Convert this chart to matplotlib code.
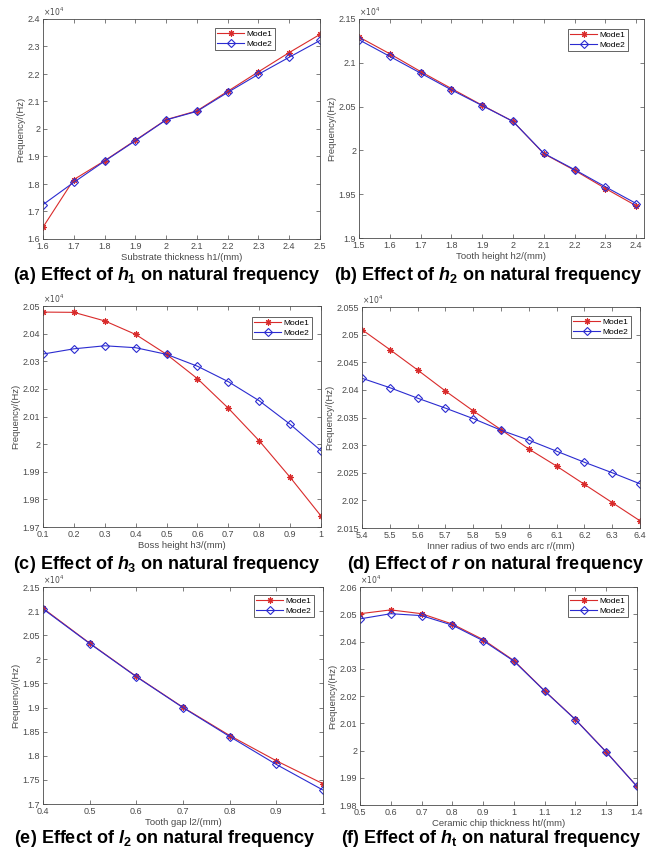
import matplotlib
matplotlib.use("Agg")
import matplotlib.pyplot as plt
from matplotlib.ticker import FuncFormatter

plt.rcParams['font.family'] = ['Liberation Sans', 'DejaVu Sans']
plt.rcParams['mathtext.fontset'] = 'custom'
plt.rcParams['mathtext.rm'] = 'Liberation Sans:bold'
plt.rcParams['mathtext.bf'] = 'Liberation Sans:bold'
plt.rcParams['mathtext.it'] = 'Liberation Sans:italic:bold'
plt.rcParams['mathtext.bfit'] = 'Liberation Sans:italic:bold'

# natural frequency data (Hz)
h1 = [1.6, 1.7, 1.8, 1.9, 2.0, 2.1, 2.2, 2.3, 2.4, 2.5]
h1_mode1 = [16430, 18160, 18845, 19590, 20340, 20660, 21370, 22080, 22780, 23440]
h1_mode2 = [17250, 18060, 18830, 19570, 20330, 20640, 21330, 21990, 22610, 23220]

h2 = [1.5, 1.6, 1.7, 1.8, 1.9, 2.0, 2.1, 2.2, 2.3, 2.4]
h2_mode1 = [21294, 21103, 20900, 20706, 20515, 20331, 19962, 19772, 19565, 19367]
h2_mode2 = [21263, 21073, 20882, 20691, 20511, 20330, 19966, 19780, 19584, 19393]

h3 = [0.1, 0.2, 0.3, 0.4, 0.5, 0.6, 0.7, 0.8, 0.9, 1.0]
h3_mode1 = [20478, 20477, 20446, 20397, 20325, 20237, 20130, 20012, 19880, 19740]
h3_mode2 = [20326, 20345, 20356, 20349, 20325, 20282, 20226, 20157, 20072, 19976]

r = [5.4, 5.5, 5.6, 5.7, 5.8, 5.9, 6.0, 6.1, 6.2, 6.3, 6.4]
r_mode1 = [20509, 20473, 20436, 20398, 20362, 20328, 20293, 20262, 20229, 20196, 20163]
r_mode2 = [20421, 20404, 20385, 20367, 20348, 20327, 20309, 20289, 20269, 20250, 20230]

l2 = [0.4, 0.5, 0.6, 0.7, 0.8, 0.9, 1.0]
l2_mode1 = [21059, 20335, 19646, 19005, 18420, 17896, 17420]
l2_mode2 = [21045, 20328, 19639, 18998, 18399, 17820, 17289]

ht = [0.5, 0.6, 0.7, 0.8, 0.9, 1.0, 1.1, 1.2, 1.3, 1.4]
ht_mode1 = [20502, 20516, 20502, 20464, 20407, 20330, 20219, 20114, 19995, 19868]
ht_mode2 = [20483, 20502, 20495, 20460, 20403, 20328, 20218, 20113, 19994, 19868]

panels = [
    # x, mode1, mode2, xlabel, xmax, ylim, ystep, caption
    (h1, h1_mode1, h1_mode2, 'Substrate thickness h1/(mm)', 2.5, (16000, 24000), 1000,
     r'(a) Effect of $\mathit{h}_{\mathbf{1}}$ on natural frequency'),
    (h2, h2_mode1, h2_mode2, 'Tooth height h2/(mm)', 2.425, (19000, 21500), 500,
     r'(b) Effect of $\mathit{h}_{\mathbf{2}}$ on natural frequency'),
    (h3, h3_mode1, h3_mode2, 'Boss height h3/(mm)', 1.0, (19700, 20500), 100,
     r'(c) Effect of $\mathit{h}_{\mathbf{3}}$ on natural frequency'),
    (r, r_mode1, r_mode2, 'Inner radius of two ends arc r/(mm)', 6.4, (20150, 20550), 50,
     r'(d) Effect of $\mathit{r}$ on natural frequency'),
    (l2, l2_mode1, l2_mode2, 'Tooth gap l2/(mm)', 1.0, (17000, 21500), 500,
     r'(e) Effect of $\mathit{l}_{\mathbf{2}}$ on natural frequency'),
    (ht, ht_mode1, ht_mode2, 'Ceramic chip thickness ht/(mm)', 1.4, (19800, 20600), 100,
     r'(f) Effect of $\mathit{h}_{\mathbf{t}}$ on natural frequency'),
]

# axes boxes in pixels: left, right, top, bottom
boxes = [(43, 320, 19, 239), (359, 644, 19, 238),
         (43, 321, 306, 527), (362, 640, 307, 528),
         (43, 323, 587, 804), (360, 637, 587, 805)]
# legend top-right corners in pixels
legend_tr = [(275, 28), (628, 29), (312, 317), (631, 316), (314, 595), (628, 595)]
# caption centres in pixels
caption_c = [(167, 276), (488, 276), (167, 564), (495, 564), (165, 838), (491, 838)]

W, H = 659, 855
fig = plt.figure(figsize=(W / 100, H / 100), dpi=100)

red = '#d92b2b'
blue = '#2b2bd0'
gray = '#4a4a4a'

for i, (x, m1, m2, xlab, xmax, ylim, ystep, cap) in enumerate(panels):
    l, rr, t, b = boxes[i]
    ax = fig.add_axes([l / W, 1 - b / H, (rr - l) / W, (b - t) / H])
    ax.plot(x, m1, '-', color=red, lw=0.8, marker=(8, 2, 0), ms=4.5, mew=0.8,
            label='Mode1')
    ax.plot(x, m2, '-', color=blue, lw=0.8, marker='D', ms=3.8, mew=0.8,
            mfc='none', label='Mode2')
    ax.set_xlim(x[0], xmax)
    ax.set_ylim(*ylim)
    ax.set_xticks(x)
    n = int(round((ylim[1] - ylim[0]) / ystep))
    ax.set_yticks([ylim[0] + k * ystep for k in range(n + 1)])
    ax.xaxis.set_major_formatter(FuncFormatter(lambda v, p: f'{round(v, 3):g}'))
    ax.yaxis.set_major_formatter(FuncFormatter(lambda v, p: f'{round(v / 1e4, 4):g}'))
    ax.tick_params(direction='in', top=True, right=True, length=3, width=0.5,
                   labelsize=6.5, colors=gray, pad=2)
    for s in ax.spines.values():
        s.set_linewidth(0.6)
        s.set_color(gray)
    ax.set_xlabel(xlab, fontsize=6.8, color=gray, labelpad=1.5)
    ax.set_ylabel('Frequency/(Hz)', fontsize=6.8, color=gray, labelpad=2)
    ax.text(0.0, 1.005, r'$\times10^{4}$', transform=ax.transAxes, fontsize=5.5,
            color=gray, ha='left', va='bottom', fontweight='normal',
            math_fontfamily='dejavusans')
    lx, ly = legend_tr[i]
    ax.legend(loc='upper right', bbox_to_anchor=(lx / W, 1 - ly / H),
              bbox_transform=fig.transFigure, fontsize=6, frameon=True,
              fancybox=False, edgecolor=gray, framealpha=1, borderpad=0.3,
              handlelength=3.2, handletextpad=0.3, labelspacing=0.2,
              borderaxespad=0).get_frame().set_linewidth(0.6)
    cx, cy = caption_c[i]
    fig.text(cx / W, 1 - cy / H, cap, fontsize=13, fontweight='bold',
             ha='center', va='center')

fig.savefig('out.png', dpi=100)
